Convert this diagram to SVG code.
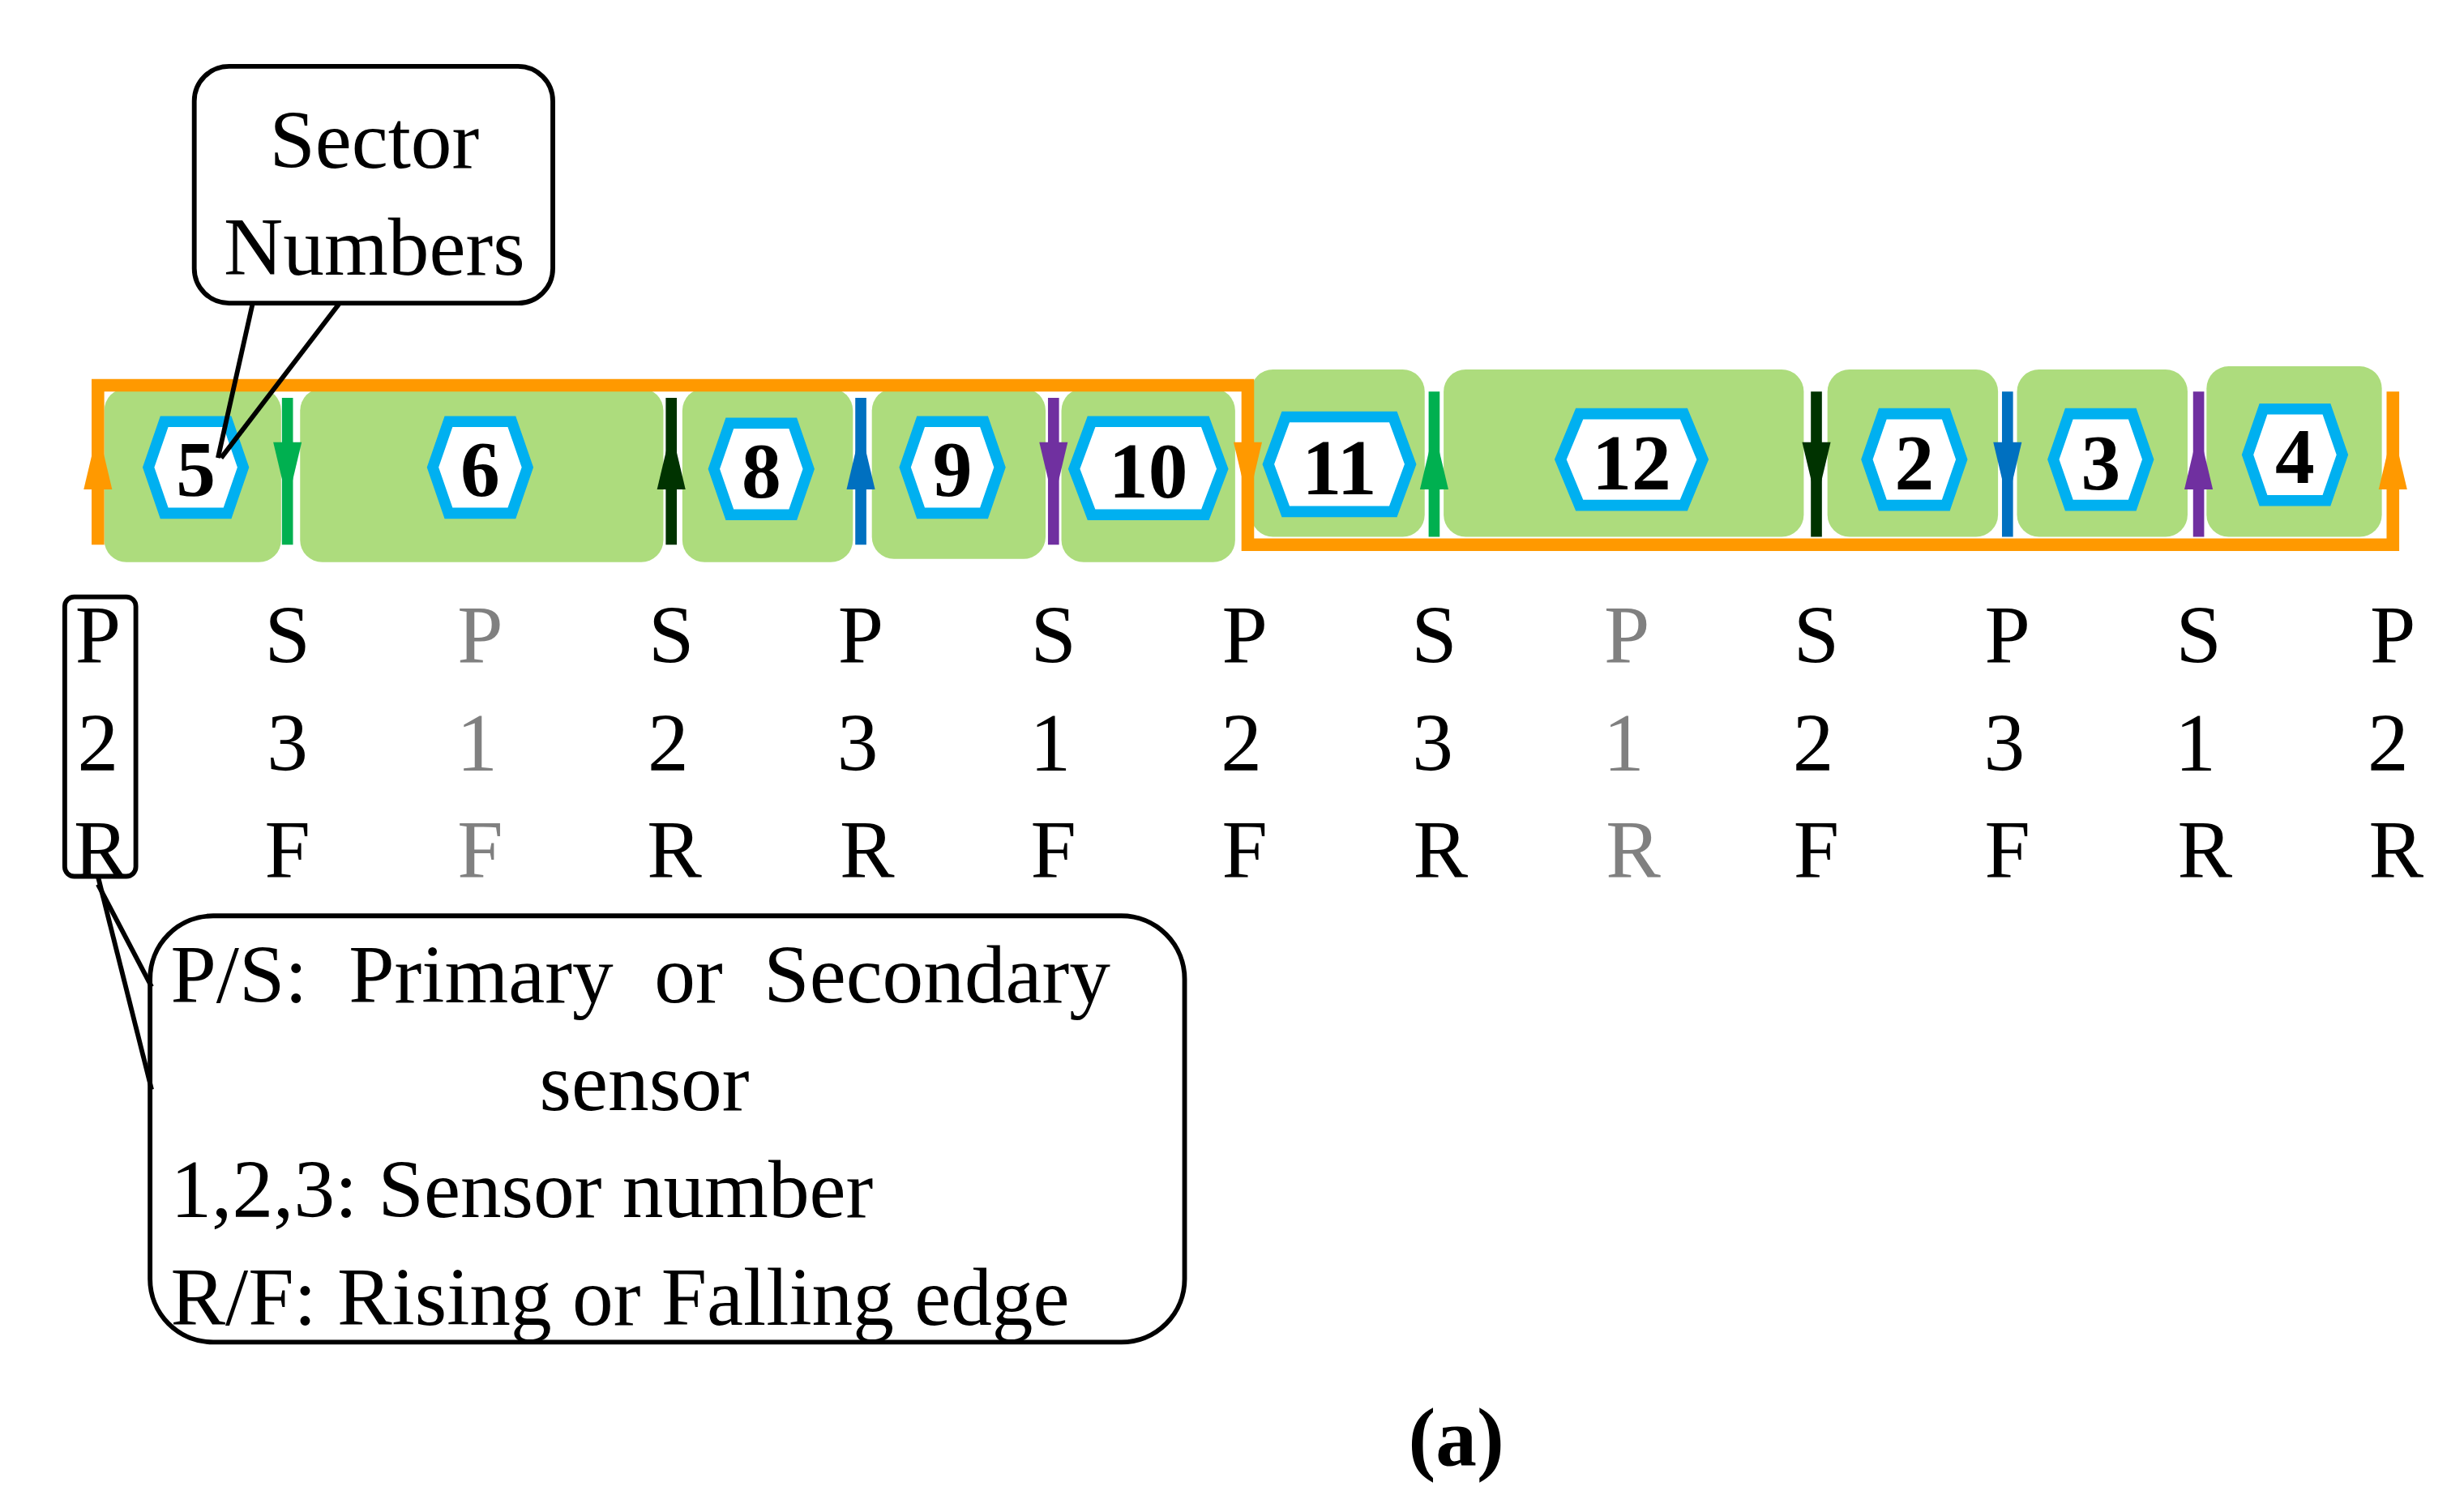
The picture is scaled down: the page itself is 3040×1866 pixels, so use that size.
<svg xmlns="http://www.w3.org/2000/svg" width="3040" height="1866" viewBox="0 0 3040 1866">
<style>
.g{fill:#ADDC7D}
.hx{fill:#fff;stroke:#00B0F0;stroke-width:7}
.hn{font-family:"Liberation Serif",serif;font-weight:bold;font-size:50px;text-anchor:middle}
.lb{font-family:"Liberation Serif",serif;font-size:52px;text-anchor:middle}
.gr{fill:#808080}
.ct{font-family:"Liberation Serif",serif;font-size:52px}
.or{stroke:#FF9900;stroke-width:8;fill:none}
</style>
<defs>
<marker id="a" viewBox="0 0 10 10" refX="5" refY="5" markerWidth="1" markerHeight="1" markerUnits="userSpaceOnUse"/>
</defs>
<rect width="3040" height="1866" fill="#fff"/>
<g transform="scale(1.9487)">
<g id="blocks">
<rect class="g" x="66" y="246" width="112" height="110" rx="14"/>
<rect class="g" x="190" y="246" width="230" height="110" rx="14"/>
<rect class="g" x="432" y="246" width="108" height="110" rx="14"/>
<rect class="g" x="552" y="246" width="110" height="108" rx="14"/>
<rect class="g" x="672" y="246" width="110" height="110" rx="14"/>
<rect class="g" x="792" y="234" width="110" height="106" rx="14"/>
<rect class="g" x="914" y="234" width="228" height="106" rx="14"/>
<rect class="g" x="1157" y="234" width="108" height="106" rx="14"/>
<rect class="g" x="1277" y="234" width="108" height="106" rx="14"/>
<rect class="g" x="1397" y="232" width="111" height="108" rx="14"/>
</g>
<g id="connectors">
<polyline class="or" points="62,345 62,244 790,244 790,345 1515,345 1515,248"/>
<g stroke-width="7">
<line x1="182" y1="252" x2="182" y2="345" stroke="#00B050"/>
<line x1="425" y1="252" x2="425" y2="345" stroke="#003300"/>
<line x1="545" y1="252" x2="545" y2="345" stroke="#0070C0"/>
<line x1="667" y1="252" x2="667" y2="345" stroke="#7030A0"/>
<line x1="908" y1="248" x2="908" y2="340" stroke="#00B050"/>
<line x1="1150" y1="248" x2="1150" y2="340" stroke="#003300"/>
<line x1="1271" y1="248" x2="1271" y2="340" stroke="#0070C0"/>
<line x1="1392" y1="248" x2="1392" y2="340" stroke="#7030A0"/>
</g>
<polygon points="62,272 53,310 71,310" fill="#FF9900"/>
<polygon points="182,318 173,280 191,280" fill="#00B050"/>
<polygon points="425,272 416,310 434,310" fill="#003300"/>
<polygon points="545,272 536,310 554,310" fill="#0070C0"/>
<polygon points="667,318 658,280 676,280" fill="#7030A0"/>
<polygon points="790,318 781,280 799,280" fill="#FF9900"/>
<polygon points="908,272 899,310 917,310" fill="#00B050"/>
<polygon points="1150,318 1141,280 1159,280" fill="#003300"/>
<polygon points="1271,318 1262,280 1280,280" fill="#0070C0"/>
<polygon points="1392,272 1383,310 1401,310" fill="#7030A0"/>
<polygon points="1515,272 1506,310 1524,310" fill="#FF9900"/>
</g>
<g id="hex5"><polygon class="hx" points="104,267 144,267 154,296 144,325 104,325 94,296"/><text class="hn" x="124" y="314">5</text></g>
<g id="hex6"><polygon class="hx" points="284,267 324,267 334,296 324,325 284,325 274,296"/><text class="hn" x="304" y="314">6</text></g>
<g id="hex8"><polygon class="hx" points="462,268 502,268 512,297 502,326 462,326 452,297"/><text class="hn" x="482" y="315">8</text></g>
<g id="hex9"><polygon class="hx" points="583,267 623,267 633,296 623,325 583,325 573,296"/><text class="hn" x="603" y="314">9</text></g>
<g id="hex10"><polygon class="hx" points="691,267 763,267 774,297 763,326 691,326 680,297"/><text class="hn" x="727" y="315">10</text></g>
<g id="hex11"><polygon class="hx" points="814,264 882,264 893,294 882,324 814,324 803,294"/><text class="hn" x="848" y="313">11</text></g>
<g id="hex12"><polygon class="hx" points="1000,262 1066,262 1078,291 1066,320 1000,320 988,291"/><text class="hn" x="1033" y="310">12</text></g>
<g id="hex2"><polygon class="hx" points="1192,262 1232,262 1242,291 1232,320 1192,320 1182,291"/><text class="hn" x="1212" y="310">2</text></g>
<g id="hex3"><polygon class="hx" points="1310,262 1350,262 1360,291 1350,320 1310,320 1300,291"/><text class="hn" x="1330" y="310">3</text></g>
<g id="hex4"><polygon class="hx" points="1433,259 1473,259 1483,288 1473,317 1433,317 1423,288"/><text class="hn" x="1453" y="306">4</text></g>
<g id="labels">
<text class="lb" x="62" y="420">P</text><text class="lb" x="62" y="488">2</text><text class="lb" x="64" y="556">R</text>
<text class="lb" x="182" y="420">S</text><text class="lb" x="182" y="488">3</text><text class="lb" x="182" y="556">F</text>
<text class="lb gr" x="304" y="420">P</text><text class="lb gr" x="302" y="488">1</text><text class="lb gr" x="304" y="556">F</text>
<text class="lb" x="425" y="420">S</text><text class="lb" x="423" y="488">2</text><text class="lb" x="427" y="556">R</text>
<text class="lb" x="545" y="420">P</text><text class="lb" x="543" y="488">3</text><text class="lb" x="549" y="556">R</text>
<text class="lb" x="667" y="420">S</text><text class="lb" x="665" y="488">1</text><text class="lb" x="667" y="556">F</text>
<text class="lb" x="788" y="420">P</text><text class="lb" x="786" y="488">2</text><text class="lb" x="788" y="556">F</text>
<text class="lb" x="908" y="420">S</text><text class="lb" x="907" y="488">3</text><text class="lb" x="912" y="556">R</text>
<text class="lb gr" x="1030" y="420">P</text><text class="lb gr" x="1028" y="488">1</text><text class="lb gr" x="1034" y="556">R</text>
<text class="lb" x="1150" y="420">S</text><text class="lb" x="1148" y="488">2</text><text class="lb" x="1150" y="556">F</text>
<text class="lb" x="1271" y="420">P</text><text class="lb" x="1269" y="488">3</text><text class="lb" x="1271" y="556">F</text>
<text class="lb" x="1392" y="420">S</text><text class="lb" x="1390" y="488">1</text><text class="lb" x="1396" y="556">R</text>
<text class="lb" x="1515" y="420">P</text><text class="lb" x="1512" y="488">2</text><text class="lb" x="1517" y="556">R</text>
</g>
<g id="callout-sector" fill="none" stroke="#000" stroke-width="3">
<rect x="123" y="42" width="227" height="150" rx="22" fill="#fff"/>
<line x1="160" y1="192" x2="138" y2="290"/>
<line x1="215" y1="192" x2="140" y2="290"/>
<text class="ct" x="237" y="106" text-anchor="middle" fill="#000" stroke="none">Sector</text>
<text class="ct" x="237" y="174" text-anchor="middle" fill="#000" stroke="none">Numbers</text>
</g>
<g id="callout-legend" fill="none" stroke="#000" stroke-width="3">
<rect x="41" y="378" width="45" height="177" rx="6"/>
<rect x="95" y="580" width="655" height="270" rx="40" fill="#fff"/>
<polyline points="62,555 96,690"/>
<polyline points="62,560 96,625"/>
<g fill="#000" stroke="none">
<text class="ct" x="108" y="635" xml:space="preserve">P/S:  Primary  or  Secondary</text>
<text class="ct" x="408" y="703" text-anchor="middle">sensor</text>
<text class="ct" x="108" y="771">1,2,3: Sensor number</text>
<text class="ct" x="108" y="839">R/F: Rising or Falling edge</text>
</g>
</g>
<text class="ct" x="922" y="928" text-anchor="middle" font-size="40" font-weight="bold">(a)</text>
</g>
</svg>
